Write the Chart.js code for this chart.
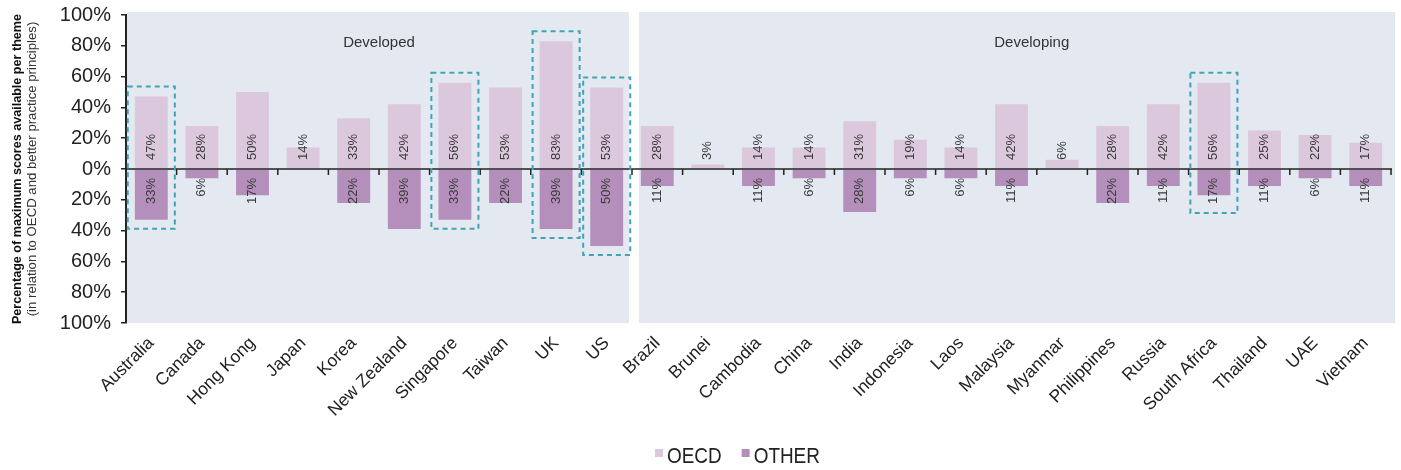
<!DOCTYPE html>
<html>
<head>
<meta charset="utf-8">
<title>Scores by theme</title>
<script src="https://cdn.jsdelivr.net/npm/chart.js@4.4.1/dist/chart.umd.min.js"></script>
<style>
  html, body { margin: 0; padding: 0; background: #fff; }
  #wrap { width: 1401px; height: 470px; }
</style>
</head>
<body>
<div id="wrap"><canvas id="scoreChart" width="1401" height="470"></canvas></div>
<script>
/* ================= DATA ================= */
const countries = [
    "Australia", "Canada", "Hong Kong", "Japan", "Korea", "New Zealand", "Singapore",
    "Taiwan", "UK", "US",
    "Brazil", "Brunei", "Cambodia", "China", "India", "Indonesia", "Laos", "Malaysia",
    "Myanmar", "Philippines", "Russia", "South Africa", "Thailand", "UAE", "Vietnam"
];
const oecdScores  = [47, 28, 50, 14, 33, 42, 56, 53, 83, 53, 28, 3, 14, 14, 31, 19, 14, 42, 6, 28, 42, 56, 25, 22, 17];
const otherScores = [33, 6, 17, 0, 22, 39, 33, 22, 39, 50, 11, 0, 11, 6, 28, 6, 6, 11, 0, 22, 11, 17, 11, 6, 11];
const seriesNames = ["OECD", "OTHER"];
const groupNames  = ["Developed", "Developing"];
const groupSizes  = [10, 15];
const highlighted = ["Australia", "Singapore", "UK", "US", "South Africa"];
const yTitleLines = [
    "Percentage of maximum scores available per theme",
    "(in relation to OECD and better practice principles)"
];

/* ================= STYLE ================= */
const FONT = '"Liberation Sans", Arial, sans-serif';
const COL_OECD = "#dbc8dc";
const COL_OTHER = "#b48fbb";
const COL_PANEL = "#e4e8f1";
const COL_BOX = "#3ea4b6";
const groupLabelAt = [4.5, 17.4]; // category units

/* ========== panels behind the bars ========== */
const panelPlugin = {
    id: "panels",
    beforeDatasetsDraw(chart) {
        const { ctx, chartArea, scales: { x } } = chart;
        let start = 0;
        ctx.save();
        groupNames.forEach((name, g) => {
            const end = start + groupSizes[g] - 1;
            const half = (x.getPixelForValue(1) - x.getPixelForValue(0)) / 2;
            const left = g === 0 ? chartArea.left + 1 : x.getPixelForValue(start) - half + 7;
            const right = g === groupNames.length - 1 ? chartArea.right + 4 : x.getPixelForValue(end) + half - 3;
            ctx.fillStyle = COL_PANEL;
            ctx.fillRect(left, chartArea.top - 3, right - left, chartArea.bottom - chartArea.top + 3);

            ctx.fillStyle = "#333";
            ctx.font = "15px " + FONT;
            ctx.textAlign = "center";
            ctx.textBaseline = "middle";
            ctx.fillText(name, x.getPixelForValue(groupLabelAt[g]), chartArea.top + 28);
            start = end + 1;
        });
        ctx.restore();
    }
};

/* ========== zero line, value labels, highlight boxes ========== */
const overlayPlugin = {
    id: "overlay",
    afterDatasetsDraw(chart) {
        const { ctx, chartArea, scales: { x, y } } = chart;
        const y0 = y.getPixelForValue(0);
        const step = x.getPixelForValue(1) - x.getPixelForValue(0);

        ctx.save();
        // zero line + boundary ticks
        ctx.strokeStyle = "#222";
        ctx.lineWidth = 1.5;
        ctx.beginPath();
        ctx.moveTo(chartArea.left, y0);
        ctx.lineTo(chartArea.right + 1, y0);
        for (let i = 0; i < countries.length; i++) {
            const bx = x.getPixelForValue(i) + step / 2;
            ctx.moveTo(bx, y0);
            ctx.lineTo(bx, y0 + 6);
        }
        ctx.stroke();

        // value labels
        ctx.font = "13px " + FONT;
        ctx.fillStyle = "#3a3a3a";
        ctx.textBaseline = "middle";
        const oecdMeta = chart.getDatasetMeta(0);
        const otherMeta = chart.getDatasetMeta(1);
        countries.forEach((c, i) => {
            const cx = oecdMeta.data[i].x;
            if (oecdScores[i]) {
                ctx.save();
                ctx.translate(cx, y0 - 9);
                ctx.rotate(-Math.PI / 2);
                ctx.textAlign = "left";
                ctx.fillText(oecdScores[i] + "%", 0, 0);
                ctx.restore();
            }
            if (otherScores[i]) {
                ctx.save();
                ctx.translate(cx, y0 + 9);
                ctx.rotate(-Math.PI / 2);
                ctx.textAlign = "right";
                ctx.fillText(otherScores[i] + "%", 0, 0);
                ctx.restore();
            }
        });

        // dashed highlight boxes
        ctx.strokeStyle = COL_BOX;
        ctx.lineWidth = 2;
        ctx.setLineDash([5, 4]);
        highlighted.forEach(name => {
            const i = countries.indexOf(name);
            const cx = oecdMeta.data[i].x;
            const top = Math.min(oecdMeta.data[i].y, y0 - 9 - ctx.measureText(oecdScores[i] + "%").width) - 10;
            const labelBottom = otherScores[i] ? y0 + 9 + ctx.measureText(otherScores[i] + "%").width : y0;
            const bottom = Math.max(otherMeta.data[i].y, labelBottom) + 9;
            const half = step * 0.465;
            ctx.strokeRect(cx - half, top, half * 2, bottom - top);
        });
        ctx.restore();
    }
};

/* ========== axis title + legend ========== */
const extrasPlugin = {
    id: "extras",
    afterDraw(chart) {
        const { ctx, chartArea } = chart;
        const midY = (chartArea.top + chartArea.bottom) / 2;
        ctx.save();
        ctx.textAlign = "center";
        ctx.textBaseline = "middle";
        ctx.fillStyle = "#111";
        ctx.translate(18, midY);
        ctx.rotate(-Math.PI / 2);
        ctx.font = "bold 12.6px " + FONT;
        ctx.fillText(yTitleLines[0], 0, 0);
        ctx.fillStyle = "#333";
        ctx.font = "13.2px " + FONT;
        ctx.fillText(yTitleLines[1], 0, 14);
        ctx.restore();

        // legend (slightly condensed text)
        ctx.save();
        ctx.font = "22px " + FONT;
        ctx.textBaseline = "middle";
        ctx.textAlign = "left";
        const squeeze = 0.86;
        let lx = 655;
        const ly = 457;
        chart.data.datasets.forEach(ds => {
            ctx.fillStyle = ds.backgroundColor;
            ctx.fillRect(lx, ly - 8, 8, 8);
            ctx.fillStyle = "#222";
            ctx.save();
            ctx.translate(lx + 12, ly);
            ctx.scale(squeeze, 1);
            ctx.fillText(ds.label, 0, 0);
            ctx.restore();
            lx += 12 + ctx.measureText(ds.label).width * squeeze + 20;
        });
        ctx.restore();
    }
};

/* ================= CHART ================= */
new Chart(document.getElementById("scoreChart").getContext("2d"), {
    type: "bar",
    data: {
        labels: countries,
        datasets: [
            {
                label: seriesNames[0],
                data: oecdScores.map(v => v || null),
                backgroundColor: COL_OECD,
                barPercentage: 0.65,
                categoryPercentage: 1
            },
            {
                label: seriesNames[1],
                data: otherScores.map(v => v ? -v : null),
                backgroundColor: COL_OTHER,
                barPercentage: 0.65,
                categoryPercentage: 1
            }
        ]
    },
    options: {
        responsive: false,
        animation: false,
        layout: { padding: { top: 15, right: 10, left: 0, bottom: 0 } },
        plugins: {
            legend: { display: false },
            tooltip: { enabled: false }
        },
        scales: {
            x: {
                stacked: true,
                grid: { display: false, drawTicks: false },
                border: { display: false },
                ticks: {
                    autoSkip: false,
                    maxRotation: 45,
                    minRotation: 45,
                    padding: 10,
                    color: "#222",
                    font: { family: FONT, size: 17.5 }
                },
                afterFit: s => { s.height = 147; }
            },
            y: {
                stacked: true,
                min: -100,
                max: 100,
                ticks: {
                    stepSize: 20,
                    padding: 10,
                    color: "#222",
                    font: { family: FONT, size: 20 },
                    callback: v => Math.abs(v) + "%"
                },
                grid: { drawOnChartArea: false, drawTicks: true, tickLength: 5, color: "#222", lineWidth: 1.5 },
                border: { display: true, color: "#222", width: 2 },
                afterFit: s => {
                    s.width = 126;
                    s.paddingTop = 4;
                    s.paddingBottom = 4;
                }
            }
        }
    },
    plugins: [panelPlugin, overlayPlugin, extrasPlugin]
});
</script>
</body>
</html>
